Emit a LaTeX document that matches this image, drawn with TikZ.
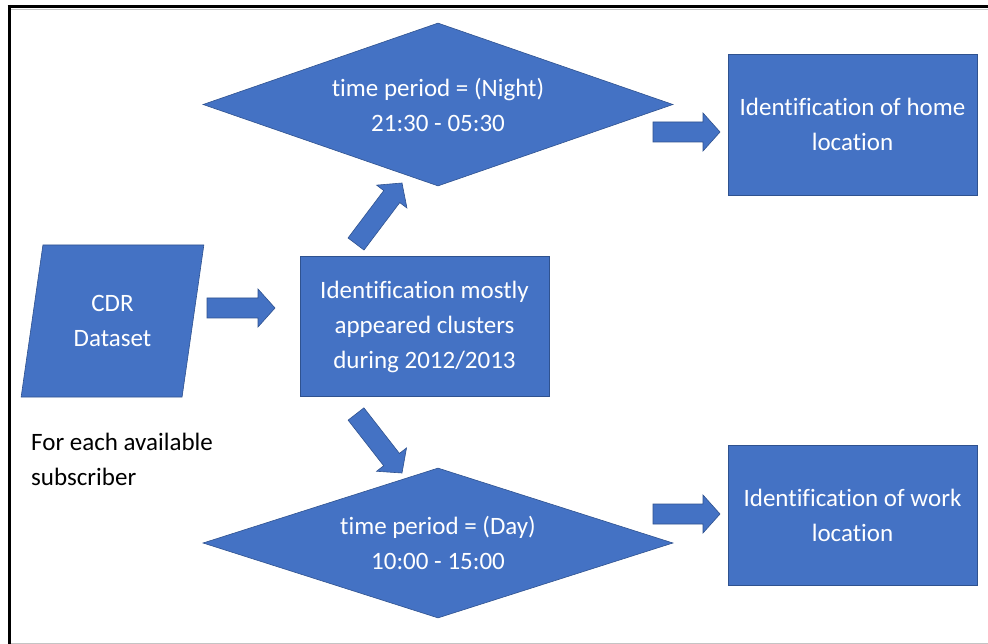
\documentclass[tikz,border=0pt]{standalone}
\usepackage{fontspec}
\setmainfont{Carlito}[Ligatures=NoCommon]
\usetikzlibrary{shapes.geometric,calc}

\definecolor{boxblue}{HTML}{4472C4}
\definecolor{boxedge}{HTML}{2F528F}
\definecolor{rulegray}{HTML}{C4C4C4}

\tikzset{
  bodytext/.style={font=\fontsize{25}{35}\selectfont},
  shapebase/.style={bodytext, fill=boxblue, draw=boxedge, line width=0.6pt,
    text=white, align=center, inner sep=0pt},
  stepbox/.style={shapebase, rectangle, minimum width=249pt, minimum height=140pt},
  decision/.style={shapebase, diamond, aspect=2.9, minimum width=470pt},
  datain/.style={shapebase, trapezium, trapezium left angle=76.7,
    trapezium right angle=103.3, trapezium stretches=true,
    minimum width=183pt, minimum height=152pt},
  % wide filled arrow: shaft 20pt, head 38pt wide and 17pt long
  blockarrow/.style={fill=boxblue, draw=boxedge, line width=0.6pt, line join=miter,
    to path={let \p1=(\tikztostart), \p2=(\tikztotarget),
      \p3=($(\p2)!17pt!(\p1)$) in
      ($(\p1)!10pt!90:(\p2)$) -- ($(\p3)!10pt!90:(\p2)$) -- ($(\p3)!19pt!90:(\p2)$)
      -- (\p2) -- ($(\p3)!19pt!-90:(\p2)$) -- ($(\p3)!10pt!-90:(\p2)$)
      -- ($(\p1)!10pt!-90:(\p2)$) -- cycle}},
}

\begin{document}
\begin{tikzpicture}[x=1pt,y=-1pt]
  \fill[white] (0,0) rectangle (988,644);
  \useasboundingbox (0,0) rectangle (988,644);

  % page frame
  \draw[rulegray, line width=1pt] (11,9.8) -- (988,9.8);
  \draw[rulegray, line width=1pt] (11,643) -- (988,643);
  \draw[black, line width=3.5pt] (7.5,6.5) -- (988,6.5);
  \draw[black, line width=3.5pt] (9.5,5) -- (9.5,644);

  % flow shapes
  \node[datain] (cdr) at (112.5,321) {CDR\\Dataset};
  \node[stepbox] (cluster) at (424.5,326.5)
    {Identification mostly\\appeared clusters\\during 2012/2013};
  \node[decision, minimum height=163pt] (night) at (438,104.5)
    {time period = (Night)\\21:30 - 05:30};
  \node[decision, minimum height=150pt] (day) at (438,543)
    {time period = (Day)\\10:00 - 15:00};
  \node[stepbox, minimum height=141pt] (home) at (852.5,124.5)
    {Identification of home\\location};
  \node[stepbox] (work) at (852.5,515)
    {Identification of work\\location};
  \node[bodytext, align=left, anchor=west, inner sep=0pt] (note) at (31,459)
    {For each available\\subscriber};

  % arrow ends
  \coordinate (toclusterA) at (207,308);
  \coordinate (toclusterB) at (275,308);
  \coordinate (tonightA) at (356,244);
  \coordinate (tonightB) at (402,183);
  \coordinate (todayA) at (356,414);
  \coordinate (todayB) at (402,473);
  \coordinate (tohomeA) at (653,132);
  \coordinate (tohomeB) at (720,132);
  \coordinate (toworkA) at (653,514);
  \coordinate (toworkB) at (720,514);

  \path[blockarrow] (toclusterA) to (toclusterB);
  \path[blockarrow] (tonightA) to (tonightB);
  \path[blockarrow] (todayA) to (todayB);
  \path[blockarrow] (tohomeA) to (tohomeB);
  \path[blockarrow] (toworkA) to (toworkB);
\end{tikzpicture}
\end{document}
